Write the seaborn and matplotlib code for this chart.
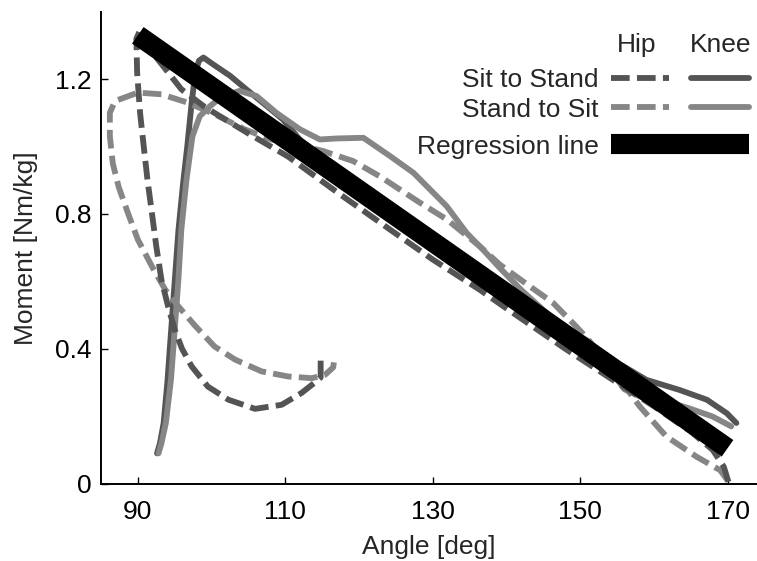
import numpy as np
import pandas as pd
import matplotlib
matplotlib.use("Agg")
import matplotlib.pyplot as plt
import seaborn as sns
from matplotlib.legend_handler import HandlerTuple

# ---------------- data ----------------
hip_sts_angle = [114.8, 114.8, 114.0, 112.2, 109.5, 105.9, 102.3, 99.5, 97.3, 96.0, 95.0, 94.1,
                 93.2, 92.5, 91.9, 91.3, 90.8, 90.3, 89.9, 89.8, 90.3, 91.2, 92.3, 95.9, 99.1,
                 104.9, 110.4, 117.0, 124.2, 130.0, 136.4, 140.0, 144.0, 148.0, 155.0, 160.0,
                 165.0, 168.0, 169.5, 170.2]
hip_sts_moment = [0.365, 0.315, 0.300, 0.269, 0.234, 0.222, 0.249, 0.288, 0.348, 0.400, 0.457,
                  0.526, 0.605, 0.704, 0.804, 0.902, 1.00, 1.10, 1.22, 1.32, 1.345, 1.31, 1.27,
                  1.17, 1.117, 1.04, 0.97, 0.865, 0.754, 0.665, 0.575, 0.52, 0.46, 0.40, 0.30,
                  0.23, 0.155, 0.10, 0.05, 0.0]

hip_sts2_angle = [170.0, 169.0, 165.8, 161.7, 158.1, 154.4, 150.9, 149.0, 146.3, 143.2, 139.1,
                  136.4, 131.9, 128.3, 122.8, 119.2, 115.1, 111.5, 108.1, 104.5, 100.4, 96.8,
                  93.2, 90.0, 86.9, 86.2, 86.2, 86.6, 87.4, 88.7, 90.0, 91.9, 93.7, 95.5, 97.7,
                  100.4, 103.2, 106.8, 110.4, 113.6, 115.4, 116.5, 116.6]
hip_sts2_moment = [0.01, 0.04, 0.08, 0.14, 0.229, 0.338, 0.433, 0.477, 0.537, 0.585, 0.65,
                   0.704, 0.784, 0.833, 0.912, 0.957, 0.987, 1.005, 1.021, 1.051, 1.096, 1.13,
                   1.155, 1.16, 1.135, 1.10, 1.03, 0.95, 0.88, 0.80, 0.724, 0.645, 0.576, 0.526,
                   0.47, 0.407, 0.368, 0.333, 0.318, 0.313, 0.323, 0.345, 0.36]

knee_sts_angle = [92.6, 93.0, 93.5, 94.0, 94.5, 95.0, 95.5, 96.1, 96.7, 97.3, 97.8, 98.3, 98.9,
                  100.2, 102.5, 104.7, 107.5, 109.7, 112.0, 116.0, 120.0, 125.0, 130.0, 135.0,
                  140.0, 145.0, 150.0, 155.9, 159.0, 163.5, 167.2, 169.9, 171.2]
knee_sts_moment = [0.09, 0.12, 0.18, 0.30, 0.45, 0.60, 0.75, 0.883, 1.00, 1.13, 1.22, 1.255,
                   1.264, 1.244, 1.21, 1.17, 1.12, 1.08, 1.02, 0.95, 0.88, 0.80, 0.72, 0.64,
                   0.565, 0.485, 0.41, 0.348, 0.308, 0.278, 0.249, 0.209, 0.18]

knee_sts2_angle = [170.5, 168.0, 165.0, 161.7, 158.5, 156.0, 154.0, 151.3, 146.8, 142.0, 139.1,
                   137.0, 134.6, 131.9, 127.4, 124.2, 120.6, 117.0, 114.7, 112.0, 108.8, 106.1,
                   103.8, 101.5, 99.8, 98.4, 97.4, 96.6, 95.9, 95.5, 95.0, 94.5, 93.8, 93.2, 92.8]
knee_sts2_moment = [0.17, 0.199, 0.222, 0.245, 0.255, 0.28, 0.34, 0.42, 0.48, 0.575, 0.64,
                    0.69, 0.744, 0.823, 0.922, 0.972, 1.026, 1.024, 1.021, 1.051, 1.10, 1.15,
                    1.165, 1.15, 1.12, 1.09, 1.03, 0.902, 0.754, 0.605, 0.457, 0.31, 0.18, 0.12,
                    0.09]

reg_angle = [90.0, 170.0]
reg_moment = [1.33, 0.105]

row_labels = ["Sit to Stand", "Stand to Sit"]
col_labels = ["Hip", "Knee"]
reg_label = "Regression line"
x_ticks = [90, 110, 130, 150, 170]
y_ticks = [0, 0.4, 0.8, 1.2]
y_tick_labels = ["0", "0.4", "0.8", "1.2"]

# ---------------- style ----------------
sns.set_style("ticks")
plt.rcParams["font.family"] = ["Liberation Sans", "DejaVu Sans"]
FS = 19
FPX = FS * 100 / 72
DARK = "#545454"
LIGHT = "#868686"
LW = 4.2
DASH = (3.2, 1.25)

fig = plt.figure(figsize=(7.57, 5.61), dpi=100)
ax = fig.add_axes([101 / 757, 1 - 483.7 / 561, 656 / 757, (483.7 - 11.7) / 561])

common = dict(estimator=None, sort=False, errorbar=None, legend=False, ax=ax)
sns.lineplot(x=knee_sts_angle, y=knee_sts_moment, color=DARK, linewidth=LW,
             solid_capstyle="round", solid_joinstyle="round", **common)
h_knee_sts = ax.lines[-1]
sns.lineplot(x=knee_sts2_angle, y=knee_sts2_moment, color=LIGHT, linewidth=LW,
             solid_capstyle="round", solid_joinstyle="round", **common)
h_knee_sts2 = ax.lines[-1]
sns.lineplot(x=hip_sts2_angle, y=hip_sts2_moment, color=LIGHT, linewidth=LW,
             linestyle=(0, DASH), **common)
h_hip_sts2 = ax.lines[-1]
sns.lineplot(x=hip_sts_angle, y=hip_sts_moment, color=DARK, linewidth=LW,
             linestyle=(0, DASH), **common)
h_hip_sts = ax.lines[-1]
sns.lineplot(x=reg_angle, y=reg_moment, color="black", linewidth=14.5,
             solid_capstyle="butt", **common)
h_reg = ax.lines[-1]

ax.set_xlim(85, 174)
ax.set_ylim(0, 1.4)
ax.set_xticks(x_ticks)
ax.set_yticks(y_ticks)
ax.set_yticklabels(y_tick_labels)
ax.tick_params(direction="in", length=5, width=1.0, labelsize=FS, pad=7, colors="black")
ax.tick_params(axis="x", pad=11.5)
for s in ["top", "right"]:
    ax.spines[s].set_visible(False)
for s in ["left", "bottom"]:
    ax.spines[s].set_linewidth(1.4)
    ax.spines[s].set_color("black")
ax.set_xlabel("Angle [deg]", fontsize=FS, labelpad=8)
ax.set_ylabel("Moment [Nm/kg]", fontsize=FS, labelpad=12)

# ---------------- legend ----------------
HL = 137.6 / FPX
leg1 = ax.legend(handles=[(h_hip_sts, h_knee_sts), (h_hip_sts2, h_knee_sts2)],
                 labels=row_labels,
                 handler_map={tuple: HandlerTuple(ndivide=None, pad=22 / FPX)},
                 markerfirst=False, frameon=False, loc="center right",
                 bbox_to_anchor=((749 - 101) / 656, (483.7 - 95) / 472),
                 borderpad=0, borderaxespad=0, handlelength=HL, handletextpad=12.7 / FPX,
                 labelspacing=0.2, fontsize=FS)
ax.add_artist(leg1)
leg2 = ax.legend(handles=[h_reg], labels=[reg_label], markerfirst=False, frameon=False,
                 loc="center right", bbox_to_anchor=((749 - 101) / 656, (483.7 - 146.7) / 472),
                 borderpad=0, borderaxespad=0, handlelength=HL, handletextpad=12.7 / FPX,
                 fontsize=FS)
ax.text((636.7 - 101) / 656, (483.7 - 45) / 472, col_labels[0], transform=ax.transAxes,
        ha="center", va="center", fontsize=FS)
ax.text((720.7 - 101) / 656, (483.7 - 45) / 472, col_labels[1], transform=ax.transAxes,
        ha="center", va="center", fontsize=FS)

fig.savefig("out.png", dpi=100)
